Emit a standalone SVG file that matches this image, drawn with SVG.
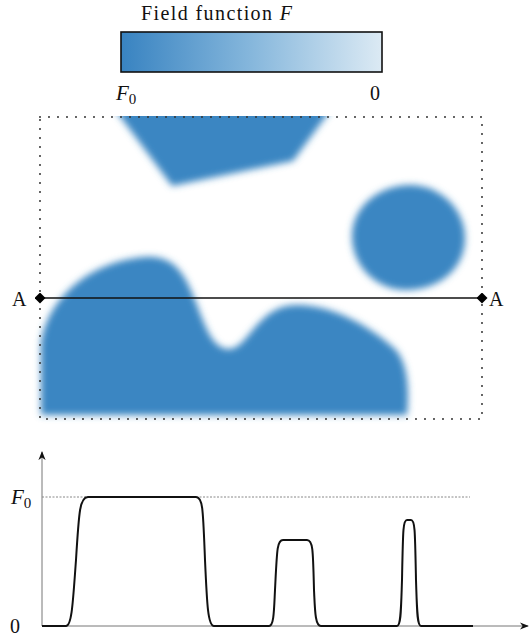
<svg xmlns="http://www.w3.org/2000/svg" width="530" height="639" viewBox="0 0 530 639">
<style>
.serif{font-family:"Liberation Serif","DejaVu Serif",serif;fill:#111}
.blob{fill:#3a86c2;filter:url(#blur)}
.axis{stroke:#777;stroke-width:1;fill:none}
.curve{stroke:#111;stroke-width:2;fill:none;stroke-linejoin:round}
</style>
<defs>
<linearGradient id="grad" x1="0" x2="1" y1="0" y2="0">
<stop offset="0" stop-color="#3883c1"/>
<stop offset="0.5" stop-color="#86b7dc"/>
<stop offset="1" stop-color="#dceaf4"/>
</linearGradient>
<filter id="blur" x="-20%" y="-20%" width="140%" height="140%">
<feGaussianBlur stdDeviation="3.5"/>
</filter>
<clipPath id="topclip"><rect x="0" y="116" width="530" height="200"/></clipPath>
<marker id="arr" viewBox="0 0 10 10" refX="9" refY="5" markerWidth="9" markerHeight="9" markerUnits="userSpaceOnUse" orient="auto">
<path d="M0,1 L10,5 L0,9 L3,5 Z" fill="#111"/>
</marker>
<marker id="dia" viewBox="-5 -5 10 10" refX="0" refY="0" markerWidth="11" markerHeight="11" markerUnits="userSpaceOnUse">
<path d="M0,-5 L5,0 L0,5 L-5,0 Z" fill="#000"/>
</marker>
</defs>

<g id="colorbar">
<text class="serif" x="141" y="20" font-size="20" textLength="151" lengthAdjust="spacing">Field function <tspan font-style="italic">F</tspan></text>
<rect x="121" y="32" width="261" height="40" fill="url(#grad)" stroke="#111" stroke-width="1.6"/>
<text class="serif" x="116" y="100" font-size="21" font-style="italic">F<tspan font-style="normal" font-size="15" dy="4">0</tspan></text>
<text class="serif" x="370" y="100" font-size="20">0</text>
</g>

<g id="field">
<g clip-path="url(#topclip)">
<path class="blob" d="M108,100 L338,100 L293,161 L172,186 Z"/>
</g>
<path id="blob-round" class="blob" d="M410,185 C441,185 465,210 465,238 C465,268 440,290 406,290 C375,290 352,265 352,236 C352,206 380,185 410,185 Z"/>
<path id="blob-large" class="blob" d="M41,415 L41,350 C41,310 80,262 145,257 C175,255 185,275 195,300 C205,325 212,350 230,349 C248,348 258,306 295,305 C335,304 375,330 396,350 C409,365 409,395 407,415 Z"/>
<rect id="domain" x="40" y="117" width="442" height="302" fill="none" stroke="#333" stroke-width="2" stroke-dasharray="0 9" stroke-linecap="round"/>
</g>

<g id="section">
<line x1="40" y1="298" x2="482" y2="298" stroke="#111" stroke-width="1.5" marker-start="url(#dia)" marker-end="url(#dia)"/>
<text class="serif" x="12" y="306" font-size="20">A</text>
<text class="serif" x="489" y="306" font-size="20">A</text>
</g>

<g id="plot">
<line class="axis" x1="42" y1="626" x2="42" y2="452" marker-end="url(#arr)"/>
<line class="axis" x1="42" y1="626" x2="528" y2="626" marker-end="url(#arr)"/>
<line x1="42" y1="497" x2="470" y2="497" stroke="#888" stroke-width="1" stroke-dasharray="2 1.5"/>
<text class="serif" x="11" y="504" font-size="21" font-style="italic">F<tspan font-style="normal" font-size="15" dy="4">0</tspan></text>
<text class="serif" x="10" y="633" font-size="20">0</text>
<path class="curve" d="M42,626 L66,626 C72,626 73,600 76,560 C79,510 80,497 88,497 L196,497 C203,497 203,510 205,560 C207,605 208,626 214,626 L269,626 C274,626 274,610 275,590 C277,550 277,540 283,540 L307,540 C313,540 313,550 314,590 C315,610 315,626 321,626 L397,626 C401,626 401,610 402,580 C403,530 403,520 407,520 L411,520 C415,520 415,530 416,580 C417,610 417,626 421,626 L473,626"/>
</g>
</svg>
